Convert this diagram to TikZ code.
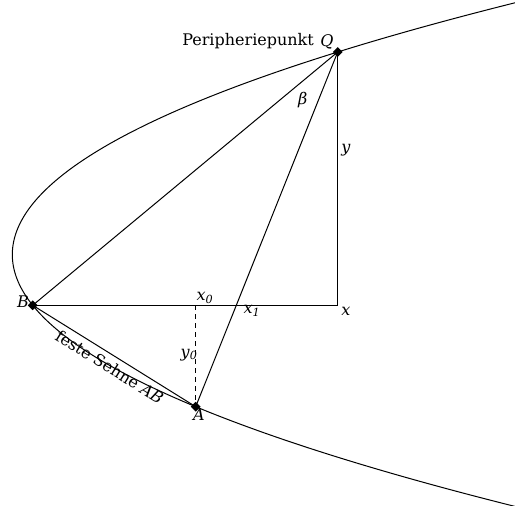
\documentclass[tikz,border=0pt]{standalone}
\usepackage{fontspec}
\setmainfont{DejaVu Serif}
\usetikzlibrary{shapes.geometric}
\tikzset{
  pt/.style={shape=diamond, fill=black, draw=none, minimum size=10pt, inner sep=0pt},
  lbl/.style={inner sep=0pt, font=\fontsize{16}{18}\selectfont},
  ln/.style={line width=1pt},
  dsh/.style={line width=1pt, dash pattern=on 5pt off 4pt}
}
\begin{document}
\begin{tikzpicture}[x=1pt, y=-1pt]
  \useasboundingbox (0,0) rectangle (515,506);
  \begin{scope}
    \clip (0,0) rectangle (515,506);
    \draw[ln] plot[domain=-2.54:2.54, samples=240, smooth] ({12.32+79.27*\x*\x}, {254.6+100*\x});
  \end{scope}
  \node[pt] (Q) at (337.7,52) {};
  \node[pt] (B) at (32.7,305.3) {};
  \node[pt] (A) at (195.7,406.7) {};
  \coordinate (X) at (Q |- B);
  \coordinate (X0) at (A |- B);
  \draw[ln] (B.center) -- (Q.center);
  \draw[ln] (A.center) -- (Q.center);
  \draw[ln] (B.center) -- (X) -- (Q.center);
  \draw[ln] (B.center) -- node[lbl, sloped, below=5pt, pos=0.51] (chord) {feste Sehne \textit{AB}} (A.center);
  \draw[dsh] (X0) -- (A.center);
  \node[lbl, anchor=east] (peri) at (314,41) {Peripheriepunkt};
  \node[lbl] (lQ) at (327,42) {\textit{Q}};
  \node[lbl] (lbeta) at (302.7,100) {\textit{β}};
  \node[lbl] (ly) at (346,150) {\textit{y}};
  \node[lbl] (lx) at (346,311) {\textit{x}};
  \node[lbl] (lx0) at (205,298) {\textit{x}\textsubscript{\textit{0}}};
  \node[lbl] (lx1) at (252,311) {\textit{x}\textsubscript{\textit{1}}};
  \node[lbl] (ly0) at (189,355) {\textit{y}\textsubscript{\textit{0}}};
  \node[lbl] (lB) at (23,302) {\textit{B}};
  \node[lbl] (lA) at (199,415) {\textit{A}};
\end{tikzpicture}
\end{document}
